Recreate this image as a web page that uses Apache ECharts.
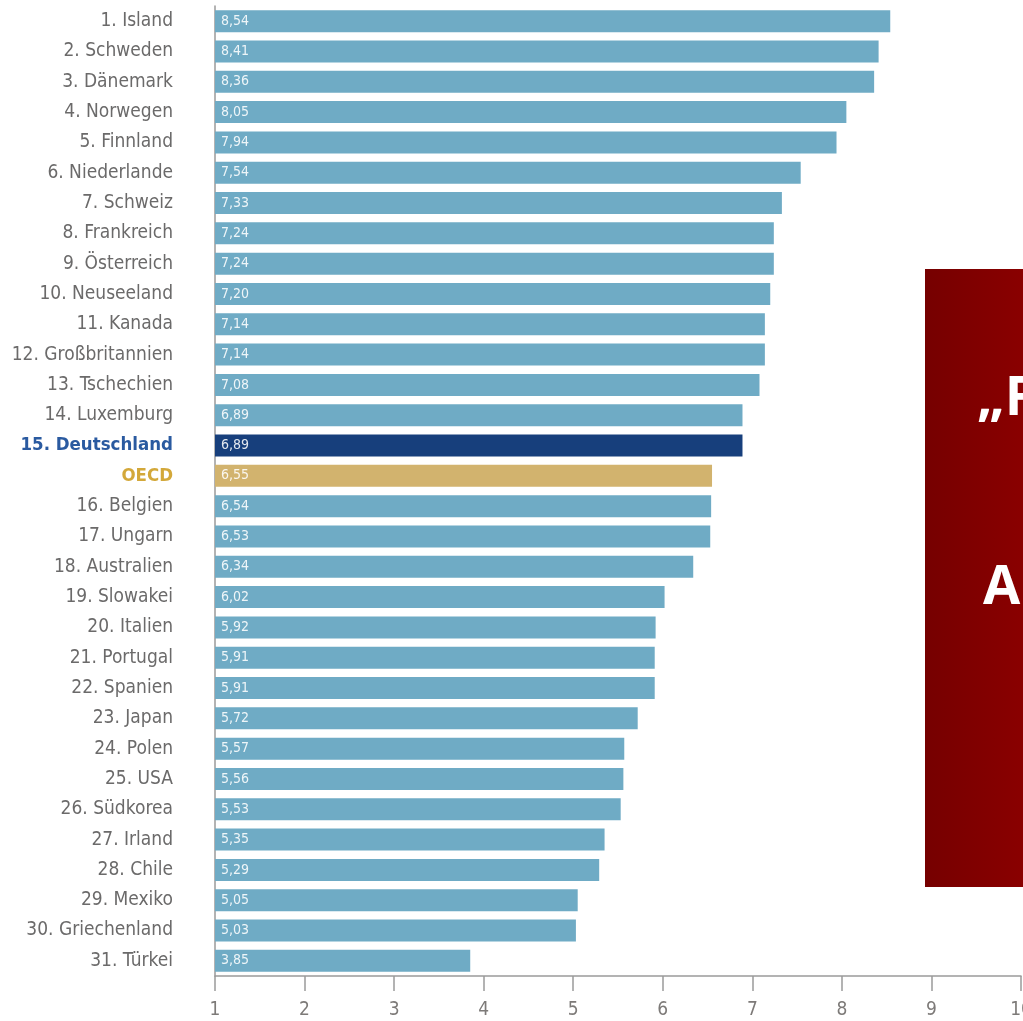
<!DOCTYPE html>
<html><head><meta charset="utf-8">
<script src="https://cdn.jsdelivr.net/npm/echarts@6/dist/echarts.min.js"></script>
<style>html,body{margin:0;padding:0;background:#fff}#c{width:1023px;height:1021px}</style>
</head><body><div id="c"></div>
<script>
const categories = ["1. Island","2. Schweden","3. Dänemark","4. Norwegen","5. Finnland","6. Niederlande","7. Schweiz","8. Frankreich","9. Österreich","10. Neuseeland","11. Kanada","12. Großbritannien","13. Tschechien","14. Luxemburg","15. Deutschland","OECD","16. Belgien","17. Ungarn","18. Australien","19. Slowakei","20. Italien","21. Portugal","22. Spanien","23. Japan","24. Polen","25. USA","26. Südkorea","27. Irland","28. Chile","29. Mexiko","30. Griechenland","31. Türkei"];
const values = [8.54,8.41,8.36,8.05,7.94,7.54,7.33,7.24,7.24,7.20,7.14,7.14,7.08,6.89,6.89,6.55,6.54,6.53,6.34,6.02,5.92,5.91,5.91,5.72,5.57,5.56,5.53,5.35,5.29,5.05,5.03,3.85];
const xTicks = [1,2,3,4,5,6,7,8,9,10];
const boxLines = ["„F","An"];

const BAR = '#6fabc5', DE = '#173f7c', OECD = '#d2b36e';
const font = '"DejaVu Sans Condensed","Liberation Sans Narrow",sans-serif';
const chart = echarts.init(document.getElementById('c'));
chart.setOption({
  animation: false,
  grid: {left: 215, right: 2, top: 6, bottom: 45, containLabel: false, outerBoundsMode: 'none'},
  xAxis: {
    type: 'value', min: xTicks[0], max: xTicks[xTicks.length-1], interval: 1,
    splitLine: {show: false},
    axisLine: {show: true, lineStyle: {color: '#9a9a9a', width: 1.5}},
    axisTick: {show: true, inside: false, length: 15, lineStyle: {color: '#9a9a9a', width: 1.5}},
    axisLabel: {color: '#7d7a78', fontSize: 19, fontFamily: font, margin: 25, hideOverlap: false}
  },
  yAxis: {
    type: 'category', data: categories, inverse: true,
    axisLine: {show: true, lineStyle: {color: '#9a9a9a', width: 1.5}},
    axisTick: {show: false},
    axisLabel: {
      margin: 42, fontSize: 19, fontFamily: font, color: '#6b6a6a',
      formatter: v => v === '15. Deutschland' ? '{de|' + v + '}' : v === 'OECD' ? '{oe|' + v + '}' : v,
      rich: {
        de: {color: '#2a5aa0', fontWeight: 'bold', fontSize: 18.5, fontFamily: font},
        oe: {color: '#d3a83a', fontWeight: 'bold', fontSize: 18.5, fontFamily: font}
      }
    }
  },
  series: [{
    type: 'bar', barWidth: 22,
    data: values.map((v, i) => ({
      value: v,
      itemStyle: {color: categories[i] === '15. Deutschland' ? DE : categories[i] === 'OECD' ? OECD : BAR}
    })),
    label: {
      show: true, position: 'insideLeft', distance: 6, color: 'rgba(255,255,255,0.88)', fontSize: 14, fontFamily: font,
      formatter: p => p.value.toFixed(2).replace('.', ',')
    }
  }],
  graphic: [
    {type: 'rect', left: 925, top: 269, shape: {width: 100, height: 618}, z: 100,
     style: {fill: new echarts.graphic.LinearGradient(0,0,1,0,[{offset:0,color:'#760000'},{offset:1,color:'#8a0000'}])}},
    {type: 'text', left: 977, top: 373, z: 101,
     style: {text: boxLines[0], fill: '#fff', font: 'bold 54px "Open Sans", sans-serif'}},
    {type: 'text', left: 983, top: 562, z: 101,
     style: {text: boxLines[1], fill: '#fff', font: 'bold 54px "Open Sans", sans-serif'}}
  ]
});
</script></body></html>
